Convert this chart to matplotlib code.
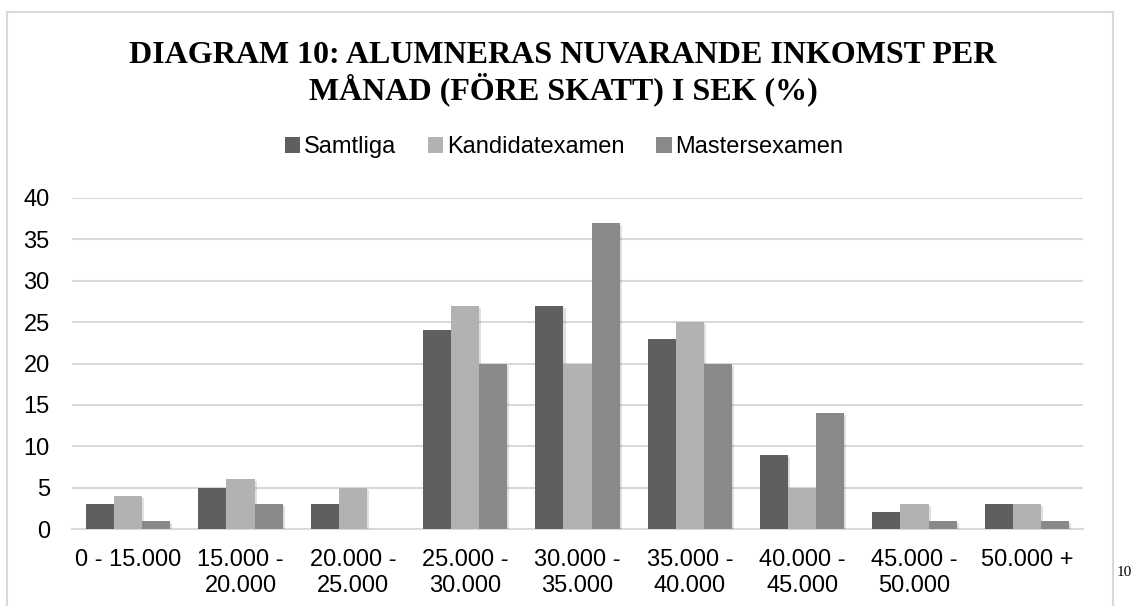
import matplotlib
matplotlib.use("Agg")
import matplotlib.pyplot as plt
from matplotlib.lines import Line2D
from matplotlib.patches import Patch
import matplotlib.patheffects as pe
import numpy as np

categories = ["0 - 15.000", "15.000 -\n20.000", "20.000 -\n25.000", "25.000 -\n30.000",
              "30.000 -\n35.000", "35.000 -\n40.000", "40.000 -\n45.000", "45.000 -\n50.000",
              "50.000 +"]
series_names = ["Samtliga", "Kandidatexamen", "Mastersexamen"]
samtliga = [3, 5, 3, 24, 27, 23, 9, 2, 3]
kandidat = [4, 6, 5, 27, 20, 25, 5, 3, 3]
master = [1, 3, 0, 20, 37, 20, 14, 1, 1]
yticks = [0, 5, 10, 15, 20, 25, 30, 35, 40]
title_lines = ["DIAGRAM 10: ALUMNERAS NUVARANDE INKOMST PER", "MÅNAD (FÖRE SKATT) I SEK (%)"]
colors = ["#5f5f5f", "#b2b2b2", "#898989"]

W, H = 1132, 606
fig = plt.figure(figsize=(W / 100, H / 100), dpi=100)
fig.patch.set_facecolor("white")

ax = fig.add_axes([72 / W, 1 - 529 / H, (1083 - 72) / W, (529 - 198) / H])
x = np.arange(len(categories))
w = 0.25
shadow = [pe.SimplePatchShadow(offset=(1.5, -1.5), shadow_rgbFace="#000000", alpha=0.12), pe.Normal()]
for i, (vals, c) in enumerate(zip([samtliga, kandidat, master], colors)):
    bars = ax.bar(x + (i - 1) * w, vals, width=w, color=c, zorder=3, label=series_names[i])
    for b in bars:
        b.set_path_effects(shadow)

ax.set_xlim(-0.5, len(categories) - 0.5)
ax.set_ylim(0, 40)
ax.set_yticks(yticks)
ax.set_yticklabels([str(t) for t in yticks], fontsize=17, family="Liberation Sans")
ax.set_xticks(x)
ax.set_xticklabels(categories, fontsize=17, family="Liberation Sans", linespacing=1.22)
ax.tick_params(axis="both", length=0, colors="#000000")
ax.tick_params(axis="y", pad=16)
ax.tick_params(axis="x", pad=14.5)
ax.grid(axis="y", color="#d9d9d9", linewidth=1.5, zorder=0)
for s in ["top", "right", "left"]:
    ax.spines[s].set_visible(False)
ax.spines["bottom"].set_color("#d9d9d9")
ax.spines["bottom"].set_linewidth(1.5)

for line, base in zip(title_lines, [63, 99]):
    fig.text(563 / W, 1 - base / H, line, ha="center", va="baseline", fontsize=23,
             fontweight="bold", family="Liberation Serif")

handles = [Patch(facecolor=c, edgecolor="none") for c in colors]
fig.legend(handles, series_names, loc="center", bbox_to_anchor=(564 / W, 1 - 147 / H),
           ncol=3, frameon=False, prop={"family": "Liberation Sans", "size": 17},
           handlelength=0.65, handleheight=0.65, handletextpad=0.15, columnspacing=1.35)

# chart border
border_c = "#d9d9d9"
fig.add_artist(Line2D([7 / W, 7 / W], [0, 1 - 12 / H], color=border_c, lw=1.5, transform=fig.transFigure))
fig.add_artist(Line2D([7 / W, 1113 / W], [1 - 12 / H, 1 - 12 / H], color=border_c, lw=1.5, transform=fig.transFigure))
fig.add_artist(Line2D([1113 / W, 1113 / W], [0, 1 - 12 / H], color=border_c, lw=1.5, transform=fig.transFigure))

fig.text(1117 / W, 1 - 572 / H, "10", ha="left", va="center", fontsize=11, family="Liberation Serif")

fig.savefig("out.png", dpi=100)
